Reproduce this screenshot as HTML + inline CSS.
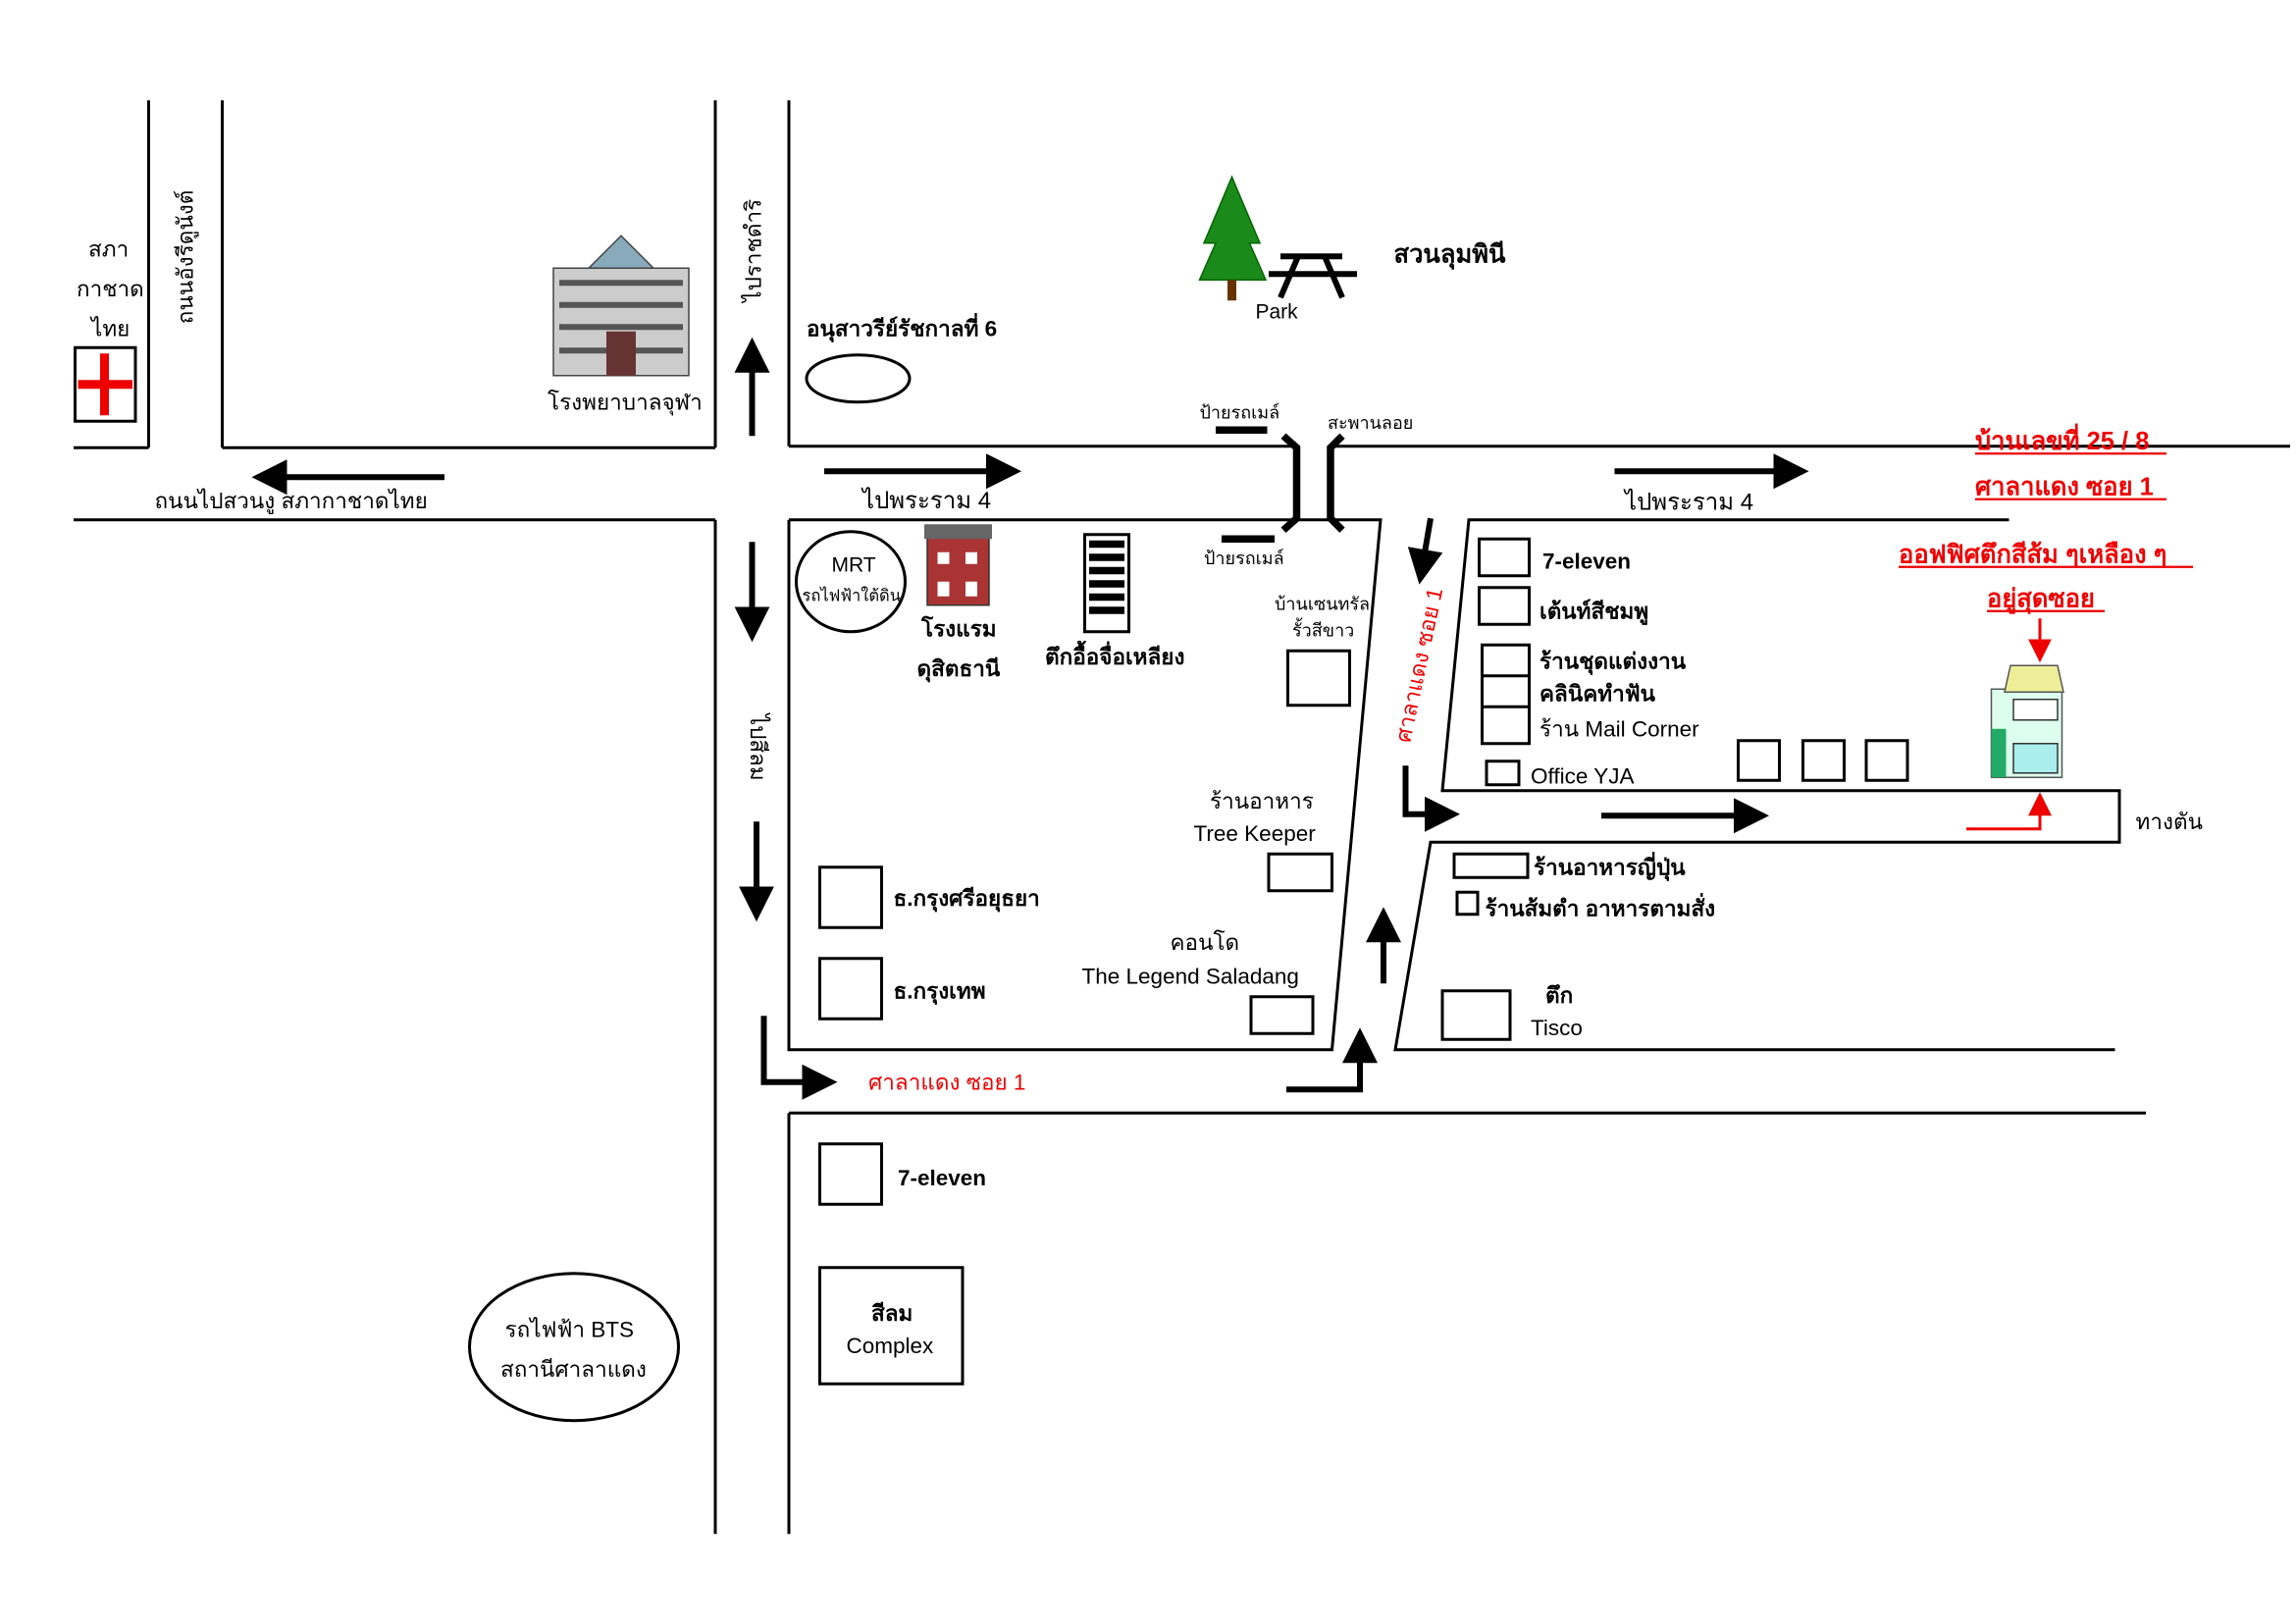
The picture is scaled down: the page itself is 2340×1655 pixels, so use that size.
<!DOCTYPE html>
<html><head><meta charset="utf-8"><style>
html,body{margin:0;padding:0;background:#fff;}
svg{display:block;}
text{font-family:"Liberation Sans","DejaVu Sans",sans-serif;fill:#000;}
</style></head><body>
<svg width="2340" height="1655" viewBox="0 0 1560 1103" xmlns="http://www.w3.org/2000/svg">
<defs>
<marker id="ah" markerWidth="6" markerHeight="6" refX="5" refY="3" orient="auto" markerUnits="strokeWidth">
<path d="M0,0 L6,3 L0,6 z" fill="#000"/></marker>
<marker id="rh" markerWidth="8" markerHeight="8" refX="7" refY="4" orient="auto" markerUnits="strokeWidth">
<path d="M0,0 L8,4 L0,8 z" fill="#e00"/></marker>
</defs>
<g stroke="#000" stroke-width="2" fill="none">
<line x1="101" y1="68" x2="101" y2="304"/>
<line x1="151" y1="68" x2="151" y2="304"/>
<line x1="151" y1="304" x2="486" y2="304"/>
<line x1="50" y1="304" x2="101" y2="304"/>
<line x1="486" y1="68" x2="486" y2="304"/>
<line x1="50" y1="353" x2="486" y2="353"/>
<line x1="486" y1="353" x2="486" y2="1042"/>
<line x1="536" y1="68" x2="536" y2="303"/>
<line x1="536" y1="303" x2="878" y2="303"/>
<line x1="906" y1="303" x2="1556" y2="303"/>
<polyline points="536,353 938,353 905,713 536,713 536,353"/>
<polyline points="1365,353 998,353 980,537 1440,537 1440,572 972,572 948,713 1437,713"/>
<line x1="536" y1="756" x2="1458" y2="756"/>
<line x1="536" y1="756" x2="536" y2="1042"/>
</g>
<g stroke="#000" stroke-width="5" fill="none">
<path d="M872,296 L881,304 L881,352 L872,360"/>
<path d="M912,296 L904,304 L904,352 L912,360"/>
<line x1="826" y1="292" x2="861" y2="292"/>
<line x1="830" y1="366" x2="866" y2="366"/>
</g>
<g stroke="#000" stroke-width="4" fill="none" marker-end="url(#ah)">
<line x1="302" y1="324" x2="175" y2="324"/>
<line x1="511" y1="296" x2="511" y2="233"/>
<line x1="560" y1="320" x2="690" y2="320"/>
<line x1="511" y1="368" x2="511" y2="432"/>
<line x1="514" y1="558" x2="514" y2="622"/>
<polyline points="519,690 519,735 565,735"/>
<polyline points="874,740 924,740 924,702"/>
<line x1="940" y1="668" x2="940" y2="620"/>
<line x1="972" y1="352" x2="965" y2="393"/>
<polyline points="955,520 955,553 988,553"/>
<line x1="1088" y1="554" x2="1198" y2="554"/>
<line x1="1097" y1="320" x2="1225" y2="320"/>
</g>
<g stroke="#e00" stroke-width="2" fill="none" marker-end="url(#rh)">
<line x1="1386" y1="420" x2="1386" y2="448"/>
<polyline points="1336,563 1386,563 1386,540"/>
</g>
<rect x="51" y="236" width="41" height="50" fill="#fff" stroke="#000" stroke-width="2"/>
<rect x="53" y="258" width="37" height="6" fill="#e00"/>
<rect x="68" y="240" width="6" height="42" fill="#e00"/>
<rect x="376" y="182" width="92" height="73" fill="#ccc" stroke="#444"/>
<polygon points="400,182 422,160 444,182" fill="#8ab" stroke="#444"/>
<g fill="#555"><rect x="380" y="190" width="84" height="4"/><rect x="380" y="205" width="84" height="4"/><rect x="380" y="220" width="84" height="4"/><rect x="380" y="236" width="84" height="4"/></g>
<rect x="412" y="225" width="20" height="30" fill="#633"/>
<polygon points="837,120 818,165 826,165 815,190 860,190 849,165 856,165" fill="#1a8a1a" stroke="#060"/>
<rect x="834" y="190" width="6" height="14" fill="#630"/>
<g stroke="#000" stroke-width="4"><line x1="870" y1="174" x2="912" y2="174"/><line x1="862" y1="186" x2="922" y2="186"/><line x1="882" y1="174" x2="870" y2="202"/><line x1="900" y1="174" x2="912" y2="202"/></g>
<ellipse cx="583" cy="257" rx="35" ry="16" fill="none" stroke="#000" stroke-width="2"/>
<ellipse cx="578" cy="395" rx="37" ry="34" fill="none" stroke="#000" stroke-width="2"/>
<rect x="630" y="365" width="42" height="46" fill="#a33" stroke="#333"/>
<rect x="628" y="356" width="46" height="10" fill="#666"/>
<g fill="#fff"><rect x="637" y="375" width="8" height="8"/><rect x="656" y="375" width="8" height="8"/><rect x="637" y="395" width="8" height="10"/><rect x="656" y="395" width="8" height="10"/></g>
<rect x="737" y="363" width="30" height="66" fill="#fff" stroke="#000" stroke-width="2"/>
<g fill="#000"><rect x="740" y="367" width="24" height="5"/><rect x="740" y="376" width="24" height="5"/><rect x="740" y="385" width="24" height="5"/><rect x="740" y="394" width="24" height="5"/><rect x="740" y="403" width="24" height="5"/><rect x="740" y="412" width="24" height="5"/></g>
<rect x="1353" y="468" width="48" height="60" fill="#dfe" stroke="#555"/>
<polygon points="1366,452 1398,452 1402,470 1362,470" fill="#ee9" stroke="#555"/>
<rect x="1353" y="495" width="10" height="33" fill="#2a6"/>
<rect x="1368" y="475" width="30" height="14" fill="#fff" stroke="#333"/>
<rect x="1368" y="505" width="30" height="20" fill="#aee" stroke="#333"/>
<g fill="#fff" stroke="#000" stroke-width="2">
<rect x="875" y="442" width="42" height="37"/>
<rect x="862" y="580" width="43" height="25"/>
<rect x="850" y="677" width="42" height="25"/>
<rect x="557" y="589" width="42" height="41"/>
<rect x="557" y="651" width="42" height="41"/>
<rect x="1005" y="366" width="34" height="25"/>
<rect x="1005" y="399" width="34" height="25"/>
<rect x="1007" y="438" width="32" height="67"/>
<line x1="1007" y1="459" x2="1039" y2="459"/><line x1="1007" y1="480" x2="1039" y2="480"/>
<rect x="1010" y="517" width="22" height="16"/>
<rect x="1181" y="503" width="28" height="27"/>
<rect x="1225" y="503" width="28" height="27"/>
<rect x="1268" y="503" width="28" height="27"/>
<rect x="988" y="580" width="50" height="16"/>
<rect x="990" y="606" width="14" height="15"/>
<rect x="980" y="673" width="46" height="33"/>
<rect x="557" y="777" width="42" height="41"/>
<rect x="557" y="861" width="97" height="79"/>
</g>
<ellipse cx="390" cy="915" rx="71" ry="50" fill="none" stroke="#000" stroke-width="2"/>
<g font-size="15">
<text x="60" y="174">สภา</text><text x="52" y="201">กาชาด</text><text x="62" y="228">ไทย</text>
<text transform="translate(131,220) rotate(-90)">ถนนอังรีดูนังต์</text>
<text transform="translate(517,205) rotate(-90)">ไปราชดำริ</text>
<text transform="translate(510,485) rotate(90)">ไปสีลม</text>
<text x="372" y="278">โรงพยาบาลจุฬา</text>
<text x="105" y="345">ถนนไปสวนงู สภากาชาดไทย</text>
<text x="548" y="228" font-weight="bold">อนุสาวรีย์รัชกาลที่ 6</text>
<text x="947" y="178" font-weight="bold" font-size="17">สวนลุมพินี</text>
<text x="853" y="216" font-size="14">Park</text>
<text x="815" y="284" font-size="12">ป้ายรถเมล์</text>
<text x="818" y="383" font-size="12">ป้ายรถเมล์</text>
<text x="902" y="291" font-size="12">สะพานลอย</text>
<text x="586" y="345" font-size="16">ไปพระราม 4</text>
<text x="1104" y="346" font-size="16">ไปพระราม 4</text>
<text x="565" y="388" font-size="14">MRT</text>
<text x="545" y="408" font-size="11">รถไฟฟ้าใต้ดิน</text>
<text x="626" y="432" font-weight="bold">โรงแรม</text>
<text x="623" y="459" font-weight="bold">ดุสิตธานี</text>
<text x="710" y="451" font-weight="bold">ตึกอื้อจื่อเหลียง</text>
<text x="866" y="414" font-size="12">บ้านเซนทรัล</text>
<text x="878" y="432" font-size="12">รั้วสีขาว</text>
<text x="822" y="549">ร้านอาหาร</text>
<text x="811" y="571">Tree Keeper</text>
<text x="795" y="645">คอนโด</text>
<text x="735" y="668">The Legend Saladang</text>
<text x="607" y="615" font-weight="bold">ธ.กรุงศรีอยุธยา</text>
<text x="607" y="678" font-weight="bold">ธ.กรุงเทพ</text>
<text x="590" y="740" style="fill:#e00">ศาลาแดง ซอย 1</text>
<text transform="translate(958,505) rotate(-78)" style="fill:#e00">ศาลาแดง ซอย 1</text>
<text x="1048" y="386" font-weight="bold">7-eleven</text>
<text x="1046" y="420" font-weight="bold">เต้นท์สีชมพู</text>
<text x="1046" y="454" font-weight="bold">ร้านชุดแต่งงาน</text>
<text x="1046" y="476" font-weight="bold">คลินิคทำฟัน</text>
<text x="1046" y="500">ร้าน Mail Corner</text>
<text x="1040" y="532">Office YJA</text>
<text x="1451" y="563">ทางตัน</text>
<text x="1042" y="594" font-weight="bold">ร้านอาหารญี่ปุ่น</text>
<text x="1009" y="622" font-weight="bold">ร้านส้มตำ อาหารตามสั่ง</text>
<text x="1050" y="681" font-weight="bold">ตึก</text>
<text x="1040" y="703">Tisco</text>
<text x="610" y="805" font-weight="bold">7-eleven</text>
<text x="592" y="897" font-weight="bold">สีลม</text>
<text x="575" y="919">Complex</text>
<text x="343" y="908">รถไฟฟ้า BTS</text>
<text x="340" y="935">สถานีศาลาแดง</text>
</g>
<g font-size="17" font-weight="bold">
<text x="1342" y="305" style="fill:#e00">บ้านเลขที่ 25 / 8</text>
<text x="1342" y="336" style="fill:#e00">ศาลาแดง ซอย 1</text>
<text x="1290" y="382" style="fill:#e00">ออฟฟิศตึกสีส้ม ๆเหลือง ๆ</text>
<text x="1350" y="412" style="fill:#e00">อยู่สุดซอย</text>
</g>
<g stroke="#e00" stroke-width="1.5">
<line x1="1342" y1="308" x2="1472" y2="308"/><line x1="1342" y1="339" x2="1472" y2="339"/>
<line x1="1290" y1="385" x2="1490" y2="385"/><line x1="1350" y1="415" x2="1430" y2="415"/>
</g>
</svg>
</body></html>
